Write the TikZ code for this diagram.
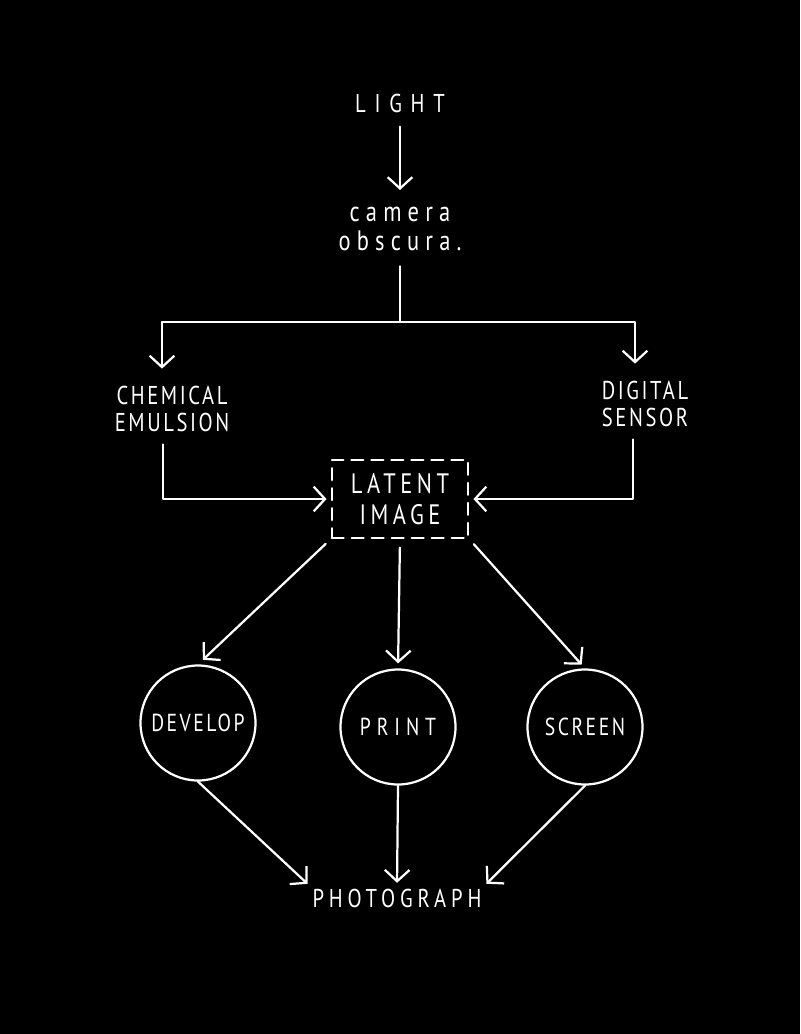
\documentclass[tikz,border=0pt]{standalone}
\usepackage{fontspec}
\setmainfont{PT Sans}[LetterSpace=10,FakeStretch=0.8]
\usetikzlibrary{arrows.meta,positioning}
\tikzset{
  chalk/.style={draw=white,line width=1.9pt,line cap=round,line join=round},
  flowarrow/.style={chalk,-{Straight Barb[length=3.4mm,width=7.4mm]}},
  handlabel/.style={text=white,align=center,inner sep=2pt,
    font=\fontsize{22}{23}\selectfont},
  widelabel/.style={handlabel,font=\fontsize{22}{23}\selectfont\addfontfeature{LetterSpace=34}},
  stagecircle/.style={chalk,circle,minimum size=3.45cm,text=white,
    font=\fontsize{21}{20}\selectfont},
  latentbox/.style={chalk,dash pattern=on 0.36cm off 0.24cm,align=center,
    minimum width=4.1cm,minimum height=2.35cm,text=white,
    font=\fontsize{24}{26}\selectfont\addfontfeature{LetterSpace=16}}
}
\begin{document}
\begin{tikzpicture}[x=0.03cm,y=-0.03cm]
  \fill[black] (0,0) rectangle (800,1034);
  \useasboundingbox (0,0) rectangle (800,1034);
  % top of the chain
  \node[widelabel] (light) at (400,103) {LIGHT};
  \node[handlabel,font=\fontsize{24}{24}\selectfont\addfontfeature{LetterSpace=22}] (camera) at (400,229) {camera\\obscura.};
  \coordinate (split) at (400,322);
  % the two kinds of capture
  \node[handlabel] (chem) at (172,409) {CHEMICAL\\EMULSION};
  \node[handlabel] (digital) at (645,404) {DIGITAL\\SENSOR};
  \node[latentbox] (latent) at (400,499) {LATENT\\IMAGE};
  % ways of showing it
  \node[stagecircle] (develop) at (198,723) {DEVELOP};
  \node[stagecircle,font=\fontsize{21}{20}\selectfont\addfontfeature{LetterSpace=24}] (print) at (398,727) {PRINT};
  \node[stagecircle] (screen) at (585,727) {SCREEN};
  \node[widelabel,font=\fontsize{22}{23}\selectfont\addfontfeature{LetterSpace=19}] (photo) at (397,898) {PHOTOGRAPH};

  \draw[flowarrow,shorten <=0.35cm,shorten >=0.45cm] (light) -- (camera);
  \draw[chalk,shorten <=0.4cm] (camera) -- (split);
  \draw[flowarrow,shorten >=0.45cm] (split) -| ([xshift=-0.3cm]chem.north);
  \draw[flowarrow,shorten >=0.45cm] (split) -| ([xshift=-0.3cm]digital.north);
  \draw[flowarrow,shorten <=0.3cm,shorten >=0.12cm] ([xshift=-0.27cm]chem.south) |- (latent.west);
  \draw[flowarrow,shorten <=0.3cm,shorten >=0.12cm] ([xshift=-0.36cm]digital.south) |- (latent.east);
  \draw[flowarrow,shorten <=0.2cm,shorten >=0.2cm] (latent.south west) -- (develop.north);
  \draw[flowarrow,shorten <=0.25cm,shorten >=0.15cm] (latent.south) -- (print.north);
  \draw[flowarrow,shorten <=0.2cm,shorten >=0.15cm] (latent.south east) -- (screen.north);
  \draw[flowarrow,shorten >=0.1cm] (develop.south) -- (photo.north west);
  \draw[flowarrow,shorten >=0.1cm] (print.south) -- (photo.north);
  \draw[flowarrow,shorten >=0.1cm] (screen.south) -- (photo.north east);
\end{tikzpicture}
\end{document}
